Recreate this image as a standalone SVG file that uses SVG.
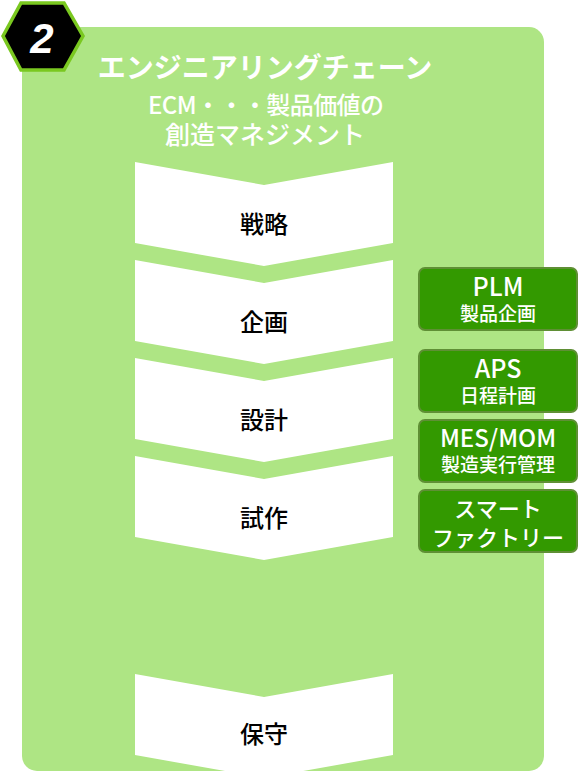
<svg xmlns="http://www.w3.org/2000/svg" width="579" height="779" viewBox="0 0 579 779">
<defs>
<style>
.jp{font-family:"Noto Sans CJK JP","Noto Sans",sans-serif;}
.chev{fill:#ffffff;}
.lbl{font-size:24px;fill:#000;text-anchor:middle;font-weight:500;}
.box{fill:#339900;stroke:#5f8f35;stroke-width:2;}
.bt{fill:#fff;text-anchor:middle;font-weight:500;}
.wt{fill:#fff;text-anchor:middle;}
</style>
</defs>
<rect x="0" y="0" width="579" height="779" fill="#ffffff"/>
<g id="panel">
<rect x="22" y="27" width="522" height="744" rx="15" ry="15" fill="#aee584"/>
</g>
<g id="badge">
<polygon points="3,36 21,3 64,3 83,36 64,70 21,70" fill="#000" stroke="#7ac820" stroke-width="3.5"/>
<text x="42" y="53" class="wt" font-family="'Liberation Sans',sans-serif" font-weight="bold" font-style="italic" font-size="42">2</text>
</g>
<g id="title" class="jp">
<text x="265" y="78" class="wt" font-size="28" font-weight="bold">エンジニアリングチェーン</text>
<text x="266" y="114" class="wt" font-size="24" font-weight="500" textLength="236">ECM・・・製品価値の</text>
<text x="265" y="144" class="wt" font-size="25" font-weight="500">創造マネジメント</text>
</g>
<g id="connectors"></g>
<g id="step1" class="jp">
<polygon class="chev" points="135,162 264,185 393,162 393,243 264,266 135,243"/>
<text x="264" y="233" class="lbl">戦略</text>
</g>
<g id="step2" class="jp">
<polygon class="chev" points="135,260 264,283 393,260 393,341 264,364 135,341"/>
<text x="264" y="331" class="lbl">企画</text>
</g>
<g id="step3" class="jp">
<polygon class="chev" points="135,358 264,381 393,358 393,439 264,462 135,439"/>
<text x="264" y="429" class="lbl">設計</text>
</g>
<g id="step4" class="jp">
<polygon class="chev" points="135,456 264,479 393,456 393,537 264,560 135,537"/>
<text x="264" y="527" class="lbl">試作</text>
</g>
<g id="step5" class="jp">
<polygon class="chev" points="135,674 264,697 393,674 393,755 264,778 135,755"/>
<text x="264" y="743" class="lbl">保守</text>
</g>
<g id="plm" class="jp">
<rect class="box" x="419" y="268" width="158" height="62" rx="6"/>
<text x="498" y="296" class="bt" font-size="25">PLM</text>
<text x="498" y="321" class="bt" font-size="19">製品企画</text>
</g>
<g id="aps" class="jp">
<rect class="box" x="419" y="350" width="158" height="62" rx="6"/>
<text x="498" y="378" class="bt" font-size="25">APS</text>
<text x="498" y="403" class="bt" font-size="19">日程計画</text>
</g>
<g id="mes" class="jp">
<rect class="box" x="419" y="420" width="158" height="62" rx="6"/>
<text x="498" y="447" class="bt" font-size="24">MES/MOM</text>
<text x="498" y="472" class="bt" font-size="19">製造実行管理</text>
</g>
<g id="smart" class="jp">
<rect class="box" x="419" y="490" width="158" height="62" rx="6"/>
<text x="498" y="517" class="bt" font-size="22">スマート</text>
<text x="498" y="546" class="bt" font-size="22">ファクトリー</text>
</g>
</svg>
